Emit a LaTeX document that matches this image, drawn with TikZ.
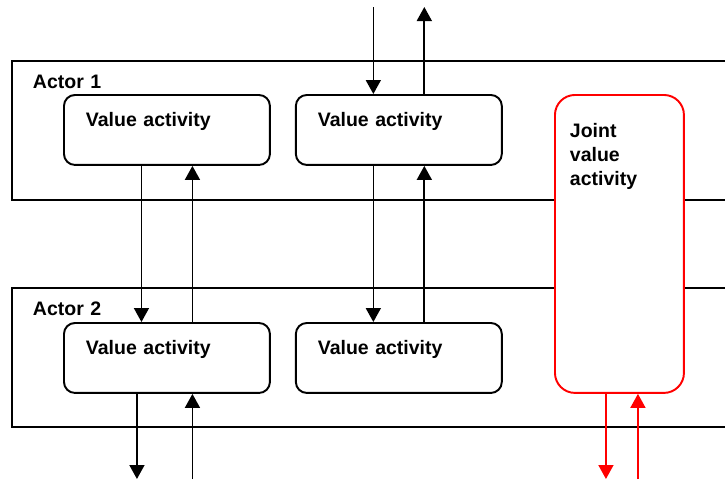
\documentclass[tikz,border=0pt]{standalone}
\usepackage{fontspec}
\setmainfont{Liberation Sans}
\usetikzlibrary{arrows.meta, positioning}
\colorlet{jointred}{red}

\begin{document}
\begin{tikzpicture}[
      x=0.02cm, y=-0.02cm,
      actor/.style = {draw, line width=1.1pt, anchor=north west, align=left,
                      text width=13.74cm, inner xsep=0.42cm, inner ysep=0pt,
                      text height=0.56cm, text depth=2.22cm,
                      font=\fontsize{11.1pt}{13.6pt}\selectfont\bfseries},
      act/.style   = {draw, rounded corners=0.22cm, line width=1.1pt,
                      fill=white, anchor=north west, align=left,
                      text width=3.24cm, inner xsep=0.44cm, inner ysep=0pt,
                      text height=0.64cm, text depth=0.76cm,
                      font=\fontsize{11.1pt}{13.6pt}\selectfont\bfseries},
      joint/.style = {act, draw=jointred, rounded corners=0.4cm,
                      text width=1.98cm, inner xsep=0.3cm,
                      text height=0.86cm, text depth=5.1cm},
      arr/.style   = {-{Triangle[length=0.28cm, width=0.3cm]}, line width=0.95pt},
      redarr/.style = {arr, color=jointred}
    ]

    \clip (0,0) rectangle (725,481);

    \node[actor] (actor1) at (11,60)  {Actor 1};
    \node[actor] (actor2) at (11,287) {Actor 2};

    \node[act] (va11) at (63,94)   {Value activity};
    \node[act, right=0.48cm of va11.north east, anchor=north west] (va12) {Value activity};
    \node[act] (va21) at (63,322)  {Value activity};
    \node[act, right=0.48cm of va21.north east, anchor=north west] (va22) {Value activity};
    \node[joint] (jva) at (554,94) {Joint\\value\\activity};

    \coordinate (outtop) at (0,7);
    \coordinate (outbot) at (0,479);

    % between the two actors
    \draw[arr] ([xshift=-0.51cm]va11.south) -- ([xshift=-0.51cm]va21.north);
    \draw[arr] ([xshift=0.51cm]va21.north)  -- ([xshift=0.51cm]va11.south);
    \draw[arr] ([xshift=-0.51cm]va12.south) -- ([xshift=-0.51cm]va22.north);
    \draw[arr] ([xshift=0.51cm]va22.north)  -- ([xshift=0.51cm]va12.south);

    % to and from outside
    \draw[arr] ([xshift=-0.51cm]va12.north |- outtop) -- ([xshift=-0.51cm]va12.north);
    \draw[arr] ([xshift=0.51cm]va12.north) -- ([xshift=0.51cm]va12.north |- outtop);
    \draw[arr] ([xshift=-0.6cm]va21.south) -- ([xshift=-0.6cm]va21.south |- outbot);
    \draw[arr] ([xshift=0.51cm]va21.south |- outbot) -- ([xshift=0.51cm]va21.south);
    \draw[redarr] ([xshift=-0.27cm]jva.south) -- ([xshift=-0.27cm]jva.south |- outbot);
    \draw[redarr] ([xshift=0.37cm]jva.south |- outbot) -- ([xshift=0.37cm]jva.south);
  \end{tikzpicture}
\end{document}
